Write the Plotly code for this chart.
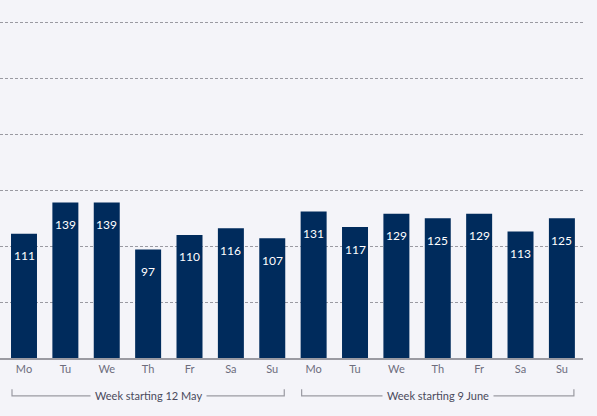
import plotly.graph_objects as go

days = ["Mo", "Tu", "We", "Th", "Fr", "Sa", "Su"]
week1_values = [111, 139, 139, 97, 110, 116, 107]
week2_values = [131, 117, 129, 125, 129, 113, 125]
week_labels = ["Week starting 12 May", "Week starting 9 June"]

BG = "#f4f4f9"
NAVY = "#002b5c"
GRID = "#9a9aa2"
FONT = "Lato"

x_idx = list(range(len(days) * 2))
values = week1_values + week2_values
tick_text = days + days

fig = go.Figure()
fig.add_trace(go.Bar(
    x=x_idx,
    y=values,
    marker_color=NAVY,
    marker_line_width=0,
    showlegend=False,
    hoverinfo="skip",
))

# value labels inside the bars, a bit below the top
for xi, v in zip(x_idx, values):
    fig.add_annotation(
        x=xi, y=v, text=str(v), showarrow=False,
        yanchor="middle", yshift=-22,
        font=dict(family=FONT, size=12, color="white"),
    )

# week brackets under the axis
half = 0.29
for w, label in enumerate(week_labels):
    a = w * 7 - half
    b = w * 7 + 6 + half
    y_line = -0.106
    y_top = -0.087
    fig.add_shape(type="path", xref="x", yref="paper",
                  path=f"M {a},{y_top} L {a},{y_line} L {b},{y_line} L {b},{y_top}",
                  line=dict(color=GRID, width=1.2))
    fig.add_annotation(
        x=w * 7 + 3, xref="x", y=y_line, yref="paper", text=label,
        showarrow=False, yanchor="middle", bgcolor=BG, borderpad=4,
        font=dict(family=FONT, size=11, color="#4a4a5c"),
    )

fig.update_layout(
    width=597, height=416,
    margin=dict(l=0, r=14, t=0, b=58),
    paper_bgcolor=BG, plot_bgcolor=BG,
    bargap=0.372,
    font=dict(family=FONT),
)
fig.update_xaxes(
    tickmode="array", tickvals=x_idx, ticktext=tick_text,
    range=[-0.58, 13.51],
    showgrid=False, showline=True, linecolor=GRID, linewidth=1.5,
    ticks="", tickfont=dict(family=FONT, size=11, color="#6d6d7d"),
    fixedrange=True,
)
fig.update_yaxes(
    range=[0, 320], dtick=50, showticklabels=False,
    showgrid=True, gridcolor=GRID, gridwidth=1, griddash="3px,2px",
    zeroline=False, showline=False, fixedrange=True,
)

# drop the page's default body margin so the chart sits at the top-left corner
fig.write_html("out.html", config={"displayModeBar": False},
               post_script="document.body.style.margin='0';")
